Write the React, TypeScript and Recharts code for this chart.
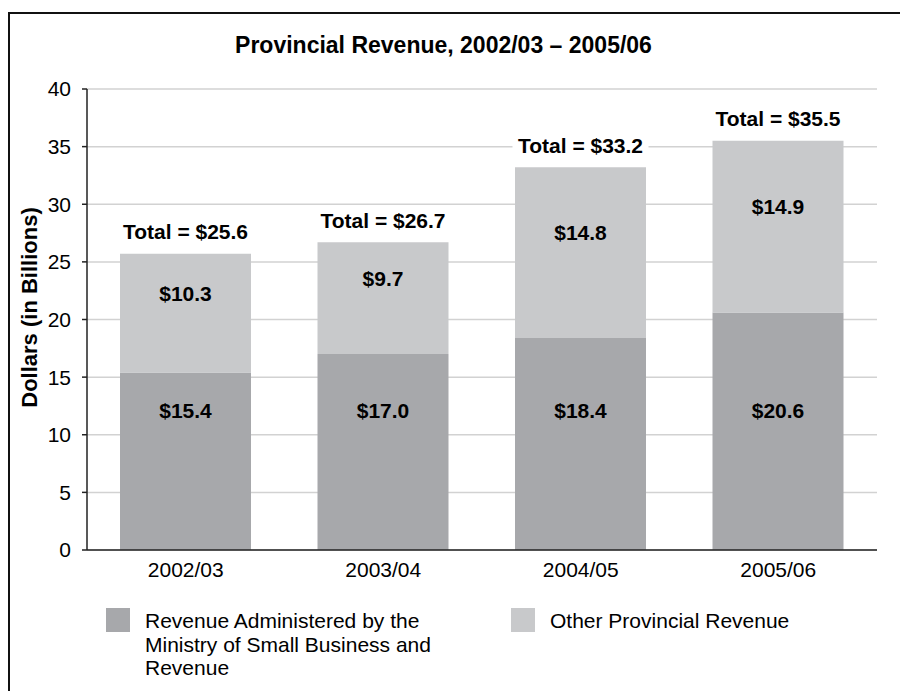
import { BarChart, Bar, XAxis, YAxis, CartesianGrid, LabelList, Label } from 'recharts';

const years = ['2002/03', '2003/04', '2004/05', '2005/06'];
const ministryRevenue = [15.4, 17.0, 18.4, 20.6];
const otherRevenue = [10.3, 9.7, 14.8, 14.9];
const totals = [25.6, 26.7, 33.2, 35.5];
const yTicks = [0, 5, 10, 15, 20, 25, 30, 35, 40];
const seriesNames = [
  'Revenue Administered by the Ministry of Small Business and Revenue',
  'Other Provincial Revenue',
];

const DARK = '#a7a8ab';
const LIGHT = '#c8c9cb';
const FONT = '"Liberation Sans", Arial, sans-serif';

const data = years.map((year, i) => ({
  year,
  ministry: ministryRevenue[i],
  other: otherRevenue[i],
  total: totals[i],
}));

const money = (v: number) => `$${v.toFixed(1)}`;

// dark segment labels sit at a fixed distance above the baseline
function MinistryLabel(props: any) {
  const { x, y, width, height, value } = props;
  return (
    <text
      x={x + width / 2}
      y={y + height - 140}
      textAnchor="middle"
      dominantBaseline="central"
      fontFamily={FONT}
      fontWeight="bold"
      fontSize={21}
      fill="#000"
    >
      {money(value)}
    </text>
  );
}

// light segment labels sit a little above the segment's middle
function OtherLabel(props: any) {
  const { x, y, width, height, value } = props;
  return (
    <text
      x={x + width / 2}
      y={y + height / 2 - 20}
      textAnchor="middle"
      dominantBaseline="central"
      fontFamily={FONT}
      fontWeight="bold"
      fontSize={21}
      fill="#000"
    >
      {money(value)}
    </text>
  );
}

// "Total = $x" above each stack, on a white box that hides the grid
function TotalLabel(props: any) {
  const { x, y, width, index } = props;
  const cx = x + width / 2;
  const cy = y - 22;
  const w = 136;
  return (
    <g>
      <rect x={cx - w / 2} y={cy - 12} width={w} height={24} fill="#fff" />
      <text
        x={cx}
        y={cy}
        textAnchor="middle"
        dominantBaseline="central"
        fontFamily={FONT}
        fontWeight="bold"
        fontSize={21}
        fill="#000"
      >
        {`Total = ${money(totals[index])}`}
      </text>
    </g>
  );
}

function YTitle(props: any) {
  const vb = props.viewBox || {};
  const x = 21;
  const y = vb.y + vb.height / 2 - 12;
  return (
    <text
      x={x}
      y={y}
      transform={`rotate(-90, ${x}, ${y})`}
      textAnchor="middle"
      dominantBaseline="central"
      fontFamily={FONT}
      fontWeight="bold"
      fontSize={22}
      fill="#000"
    >
      Dollars (in Billions)
    </text>
  );
}

const legendItems = [
  { name: seriesNames[0], color: DARK, left: 98 },
  { name: seriesNames[1], color: LIGHT, left: 503 },
];

export default function App() {
  return (
    <div
      style={{
        position: 'fixed',
        left: 8,
        top: 8,
        width: 900,
        height: 700,
        overflow: 'hidden',
        fontFamily: FONT,
        background: '#fff',
      }}
    >
      {/* open frame: only the top and left edges fall inside the page */}
      <div
        style={{
          position: 'absolute',
          left: 0,
          top: 4,
          width: 900,
          height: 1.5,
          background: '#111',
        }}
      />
      <div
        style={{
          position: 'absolute',
          left: 0,
          top: 4,
          width: 1.5,
          height: 700,
          background: '#111',
        }}
      />
      <div
        style={{
          position: 'absolute',
          left: 0,
          top: 24,
          width: 871,
          textAlign: 'center',
          fontWeight: 'bold',
          fontSize: 23,
          lineHeight: '26px',
          color: '#000',
        }}
      >
        Provincial Revenue, 2002/03 – 2005/06
      </div>

      <div style={{ position: 'absolute', left: 0, top: 0 }}>
        <BarChart
          width={880}
          height={675}
          data={data}
          margin={{ top: 81, right: 11, left: 19, bottom: 103 }}
        >
          <CartesianGrid vertical={false} stroke="#d2d2d2" strokeWidth={1.5} />
          <XAxis
            dataKey="year"
            height={30}
            tickLine={false}
            tickSize={0}
            tickMargin={12}
            axisLine={{ stroke: '#222', strokeWidth: 1.5 }}
            tick={{ fill: '#000', fontSize: 21, fontFamily: FONT }}
          />
          <XAxis
            xAxisId="frame"
            dataKey="year"
            orientation="top"
            height={0}
            tick={false}
            tickLine={false}
            axisLine={{ stroke: '#555', strokeWidth: 1.5 }}
          />
          <YAxis
            domain={[0, 40]}
            ticks={yTicks}
            width={60}
            tickSize={5}
            tickMargin={11}
            interval={0}
            axisLine={{ stroke: '#222', strokeWidth: 1.5 }}
            tickLine={{ stroke: '#222', strokeWidth: 1.5 }}
            tick={{ fill: '#000', fontSize: 21, fontFamily: FONT }}
          >
            <Label content={<YTitle />} />
          </YAxis>
          <YAxis
            yAxisId="frame"
            orientation="right"
            width={0}
            domain={[0, 40]}
            tick={false}
            tickLine={false}
            axisLine={{ stroke: '#555', strokeWidth: 1.5 }}
          />
          <Bar
            dataKey="ministry"
            stackId="rev"
            fill={DARK}
            barSize={131}
            isAnimationActive={false}
          >
            <LabelList dataKey="ministry" content={<MinistryLabel />} />
          </Bar>
          <Bar
            dataKey="other"
            stackId="rev"
            fill={LIGHT}
            barSize={131}
            isAnimationActive={false}
          >
            <LabelList dataKey="other" content={<OtherLabel />} />
            <LabelList dataKey="total" content={<TotalLabel />} />
          </Bar>
        </BarChart>
      </div>

      {legendItems.map((item) => (
        <div key={item.name} style={{ position: 'absolute', left: item.left, top: 600 }}>
          <div
            style={{
              position: 'absolute',
              left: 0,
              top: 0,
              width: 24,
              height: 24,
              background: item.color,
            }}
          />
          <div
            style={{
              position: 'absolute',
              left: 39,
              top: 1,
              width: 300,
              fontSize: 21,
              lineHeight: '23.5px',
              color: '#000',
            }}
          >
            {item.name}
          </div>
        </div>
      ))}
    </div>
  );
}
